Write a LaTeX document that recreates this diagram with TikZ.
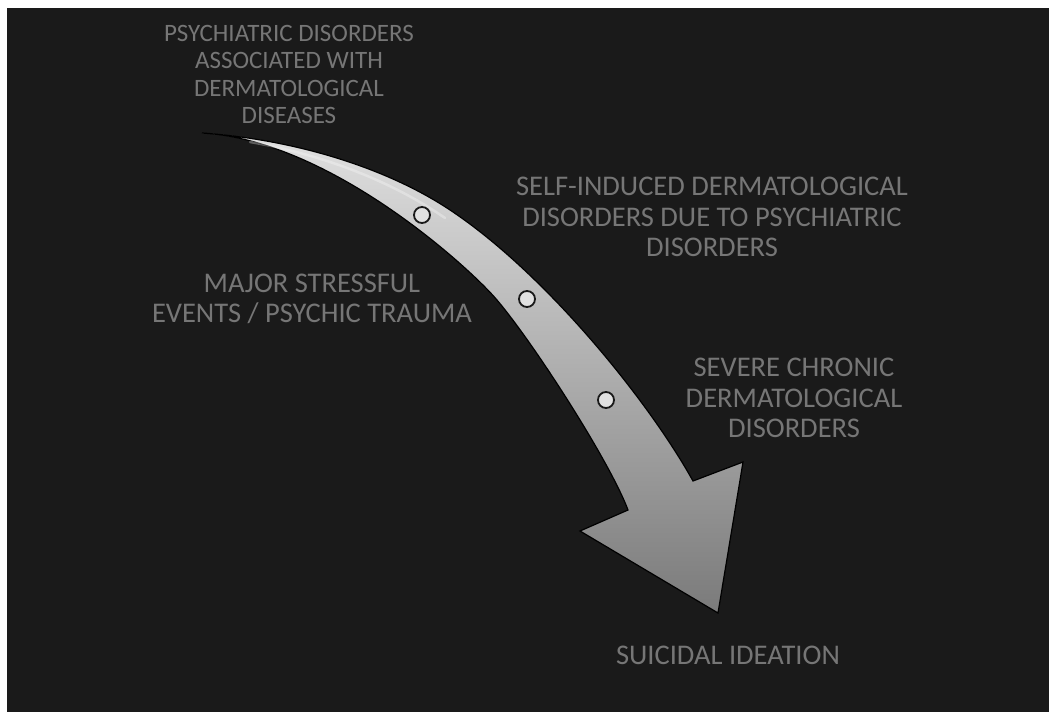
\documentclass[tikz,border=0pt]{standalone}
\usepackage{fontspec}
\setmainfont{Carlito}
\usepackage{tikz}
\definecolor{bgdark}{RGB}{26,26,26}
\definecolor{labelgray}{RGB}{118,118,118}
\definecolor{dotfill}{RGB}{225,225,225}
\tikzset{
  lbl/.style={text=labelgray, align=center, inner sep=0pt,
              font=\fontsize{28.5}{30.5}\selectfont},
  lblsmall/.style={lbl, font=\fontsize{25}{27.5}\selectfont},
  dot/.style={circle, draw=black!90, line width=1.8pt, fill=dotfill,
              minimum size=16pt, inner sep=0pt},
  arrowbody/.style={draw=black, line width=1.2pt,
                    top color=black!12, bottom color=black!52},
  gloss/.style={white, opacity=.3, line width=2.5pt, line cap=round},
}

\begin{document}
\begin{tikzpicture}[x=1pt, y=-1pt]
  \useasboundingbox (0,0) rectangle (1049,712);
  % backdrop
  \fill[white] (0,0) rectangle (1049,712);
  \fill[bgdark] (7,8) rectangle (1049,712);
  % curved arrow
  \shadedraw[arrowbody] (202,133)
    .. controls (300,140) and (390,170) .. (450,210)
    .. controls (545,273) and (648,400) .. (693,481)
    -- (743,462) -- (718,613) -- (580,531) -- (628,510)
    .. controls (610,462) and (535,345) .. (497,300)
    .. controls (470,268) and (330,140) .. (202,133)
    -- cycle;
  \draw[gloss] (250,142) .. controls (320,154) and (390,180) .. (445,218);
  % stations on the arrow
  \node[dot] (d1) at (422,215) {};
  \node[dot] (d2) at (527,299) {};
  \node[dot] (d3) at (606,400) {};
  % labels
  \node[lblsmall] (psy) at (289,74.5)
    {PSYCHIATRIC DISORDERS\\ASSOCIATED WITH\\DERMATOLOGICAL\\DISEASES};
  \node[lbl] (self) at (712,217)
    {SELF-INDUCED DERMATOLOGICAL\\DISORDERS DUE TO PSYCHIATRIC\\DISORDERS};
  \node[lbl] (stress) at (312,299)
    {MAJOR STRESSFUL\\EVENTS / PSYCHIC TRAUMA};
  \node[lbl] (chronic) at (794,398)
    {SEVERE CHRONIC\\DERMATOLOGICAL\\DISORDERS};
  \node[lbl] (suicide) at (728,655) {SUICIDAL IDEATION};
\end{tikzpicture}
\end{document}
